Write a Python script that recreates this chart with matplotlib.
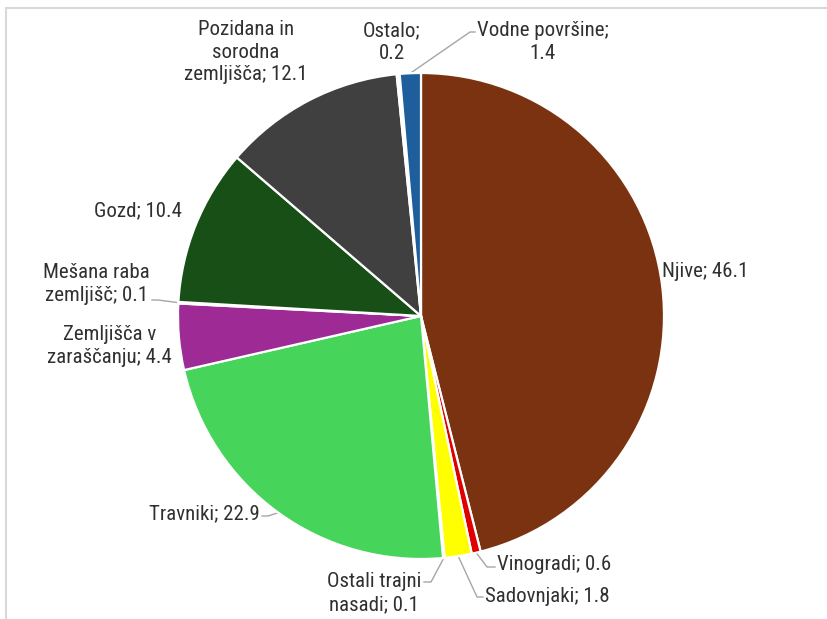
import numpy as np
import matplotlib.pyplot as plt
from matplotlib.patches import Rectangle
from matplotlib import font_manager

names = {f.name for f in font_manager.fontManager.ttflist}
fam, fs = 'Liberation Sans', 13.5
for cand in ['Roboto Condensed', 'Open Sans Condensed', 'Noto Sans Condensed',
             'Liberation Sans Narrow', 'DejaVu Sans Condensed']:
    if cand in names:
        fam, fs = cand, 15
        break
plt.rcParams['font.family'] = [fam, 'DejaVu Sans']

# podatki (delež v %)
labels = ['Njive', 'Vinogradi', 'Sadovnjaki', 'Ostali trajni\nnasadi', 'Travniki',
          'Zemljišča v\nzaraščanju', 'Mešana raba\nzemljišč', 'Gozd',
          'Pozidana in\nsorodna\nzemljišča', 'Ostalo;\n', 'Vodne površine;\n']
values = [46.1, 0.6, 1.8, 0.1, 22.9, 4.4, 0.1, 10.4, 12.1, 0.2, 1.4]
colors = ['#7B3211', '#E00000', '#FFFF00', '#C8E6C0', '#47D45A', '#9E2A96',
          '#E8E8E8', '#174F17', '#404040', '#FFFFFF', '#1F5E9C']

W, H = 828, 619
fig = plt.figure(figsize=(W / 100, H / 100), dpi=100)
ax = fig.add_axes([0, 0, 1, 1])

cx, cy, R = 421, H - 316, 243
wedges, _ = ax.pie(values, colors=colors, startangle=90, counterclock=False,
                   center=(cx, cy), radius=R,
                   wedgeprops=dict(edgecolor='white', linewidth=1.6))
ax.set_xlim(0, W)
ax.set_ylim(0, H)
ax.set_aspect('equal')
ax.axis('off')

# položaji oznak v pikslih (x, y od zgoraj), poravnava, vmesna točka črte
lab_pos = [
    (662, 272, 'left', None),
    (497, 565, 'left', (487, 567)),
    (485, 597, 'left', (477, 597)),
    (421, 593, 'right', (431, 582)),
    (260, 514, 'right', (268, 516)),
    (172, 346, 'right', None),
    (150, 284, 'right', (158, 300)),
    (182, 211, 'right', None),
    (246, 52, 'center', None),
    (392, 42, 'center', None),
    (477, 42, 'left', (470, 32)),
]

line_col = '#A6A6A6'
cum = np.cumsum([0] + values[:-1])
tot = sum(values)
for i, (lab, v) in enumerate(zip(labels, values)):
    x, y, ha, mid = lab_pos[i]
    if lab.endswith('\n'):
        txt = lab.rstrip('\n') + '\n' + f'{v:.1f}'
    else:
        txt = f'{lab}; {v:.1f}'
    ax.text(x, H - y, txt, ha=ha, va='center', fontsize=fs, color='#303030',
            multialignment='center', linespacing=1.25)
    if mid is not None:
        ang = np.deg2rad(90 - 360 * (cum[i] + v / 2) / tot)
        ex, ey = cx + R * np.cos(ang), cy + R * np.sin(ang)
        mx, my = mid[0], H - mid[1]
        endx = x - 2 if ha == 'left' else x + 2
        if i == 3:
            endx = 424
        ax.plot([ex, mx, endx], [ey, my, my], color=line_col, lw=1, zorder=0)

# okvir
fig.patches.append(Rectangle((6 / W, -0.1), 1.2, (H - 8) / H + 0.1,
                             transform=fig.transFigure, fill=False,
                             edgecolor='#D9D9D9', linewidth=1.5))

fig.savefig('out.png', dpi=100, facecolor='white')
